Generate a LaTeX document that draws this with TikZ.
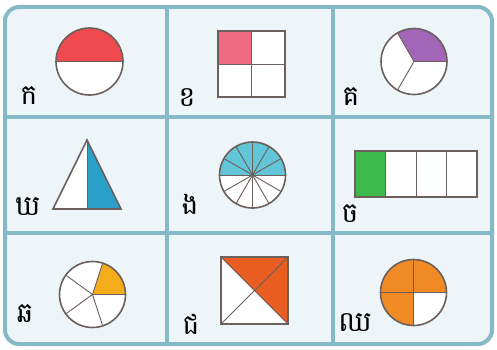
\documentclass[tikz,border=0pt]{standalone}
\usepackage{fontspec}
\newfontfamily\khmer[Script=Khmer]{Battambang}
\definecolor{frame}{HTML}{86B9C7}
\definecolor{cellbg}{HTML}{EDF5F8}
\definecolor{outl}{HTML}{6B605C}
\definecolor{cred}{HTML}{EE4A50}
\definecolor{cpink}{HTML}{EF6B82}
\definecolor{cpurple}{HTML}{A266B8}
\definecolor{cblue}{HTML}{2AA0C8}
\definecolor{cteal}{HTML}{62C5D8}
\definecolor{cgreen}{HTML}{3DB84A}
\definecolor{cyellow}{HTML}{F5AC1B}
\definecolor{cred2}{HTML}{E85D20}
\definecolor{corange}{HTML}{F08A24}
\tikzset{
  shapeline/.style={draw=outl, line width=1.6pt},
  divline/.style={draw=outl, line width=0.9pt},
  lbl/.style={font=\khmer\fontsize{28}{30}\selectfont, inner sep=0pt, text=black}
}
\begin{document}
\begin{tikzpicture}[x=1pt,y=1pt]
\useasboundingbox (0,0) rectangle (497,349);
% frame
\draw[frame, fill=cellbg, line width=4pt, rounded corners=14pt] (5,5) rectangle (492,342);
\draw[frame, line width=4pt] (167,5) -- (167,342) (333,5) -- (333,342)
  (5,232) -- (492,232) (5,116) -- (492,116);

% cell 1
\fill[white] (89.5,287.5) circle (33.5);
\fill[cred] (123,287.5) arc (0:180:33.5) -- cycle;
\draw[divline] (56,287.5) -- (123,287.5);
\draw[shapeline] (89.5,287.5) circle (33.5);
\node[lbl] (l1) at (29,253) {ក};

% cell 2
\fill[white] (218,252) rectangle (285,318);
\fill[cpink] (218,285) rectangle (251.5,318);
\draw[divline] (251.5,252) -- (251.5,318) (218,285) -- (285,285);
\draw[shapeline] (218,252) rectangle (285,318);
\node[lbl] (l2) at (187,251) {ខ};

% cell 3
\fill[white] (414,287.5) circle (33);
\fill[cpurple] (414,287.5) -- (447,287.5) arc (0:120:33) -- cycle;
\draw[divline] (414,287.5) -- ++(0:33) (414,287.5) -- ++(120:33) (414,287.5) -- ++(240:33);
\draw[shapeline] (414,287.5) circle (33);
\node[lbl] (l3) at (351,252) {គ};

% cell 4
\fill[white] (87,209) -- (53,140) -- (121,140) -- cycle;
\fill[cblue] (87,209) -- (87,140) -- (121,140) -- cycle;
\draw[divline] (87,209) -- (87,140);
\draw[shapeline, line join=miter] (87,209) -- (53,140) -- (121,140) -- cycle;
\node[lbl] (l4) at (28,142) {ឃ};

% cell 5
\fill[white] (252.5,174) circle (33);
\fill[cteal] (285.5,174) arc (0:180:33) -- cycle;
\foreach \a in {0,30,...,330} \draw[divline] (252.5,174) -- ++(\a:33);
\draw[shapeline] (252.5,174) circle (33);
\node[lbl] (l5) at (190,145) {ង};

% cell 6
\fill[white] (355,152) rectangle (477,198);
\fill[cgreen] (355,152) rectangle (385.5,198);
\draw[divline] (385.5,152) -- (385.5,198) (416,152) -- (416,198) (446.5,152) -- (446.5,198);
\draw[shapeline] (355,152) rectangle (477,198);
\node[lbl] (l6) at (350,135) {ច};

% cell 7
\fill[white] (92.5,54.5) circle (33);
\fill[cyellow] (92.5,54.5) -- (125.5,54.5) arc (0:72:33) -- cycle;
\foreach \a in {0,72,144,216,288} \draw[divline] (92.5,54.5) -- ++(\a:33);
\draw[shapeline] (92.5,54.5) circle (33);
\node[lbl] (l7) at (25,35) {ឆ};

% cell 8
\fill[white] (221,25) rectangle (288,92);
\fill[cred2] (221,92) -- (288,92) -- (288,25) -- cycle;
\draw[divline] (221,25) -- (288,92) (221,92) -- (288,25);
\draw[shapeline] (221,25) rectangle (288,92);
\node[lbl] (l8) at (191,25) {ជ};

% cell 9
\fill[white] (413.5,56.5) circle (33);
\fill[corange] (413.5,56.5) -- (446.5,56.5) arc (0:270:33) -- cycle;
\draw[divline] (380.5,56.5) -- (446.5,56.5) (413.5,23.5) -- (413.5,89.5);
\draw[shapeline] (413.5,56.5) circle (33);
\node[lbl] (l9) at (355,26) {ឈ};
\end{tikzpicture}
\end{document}
